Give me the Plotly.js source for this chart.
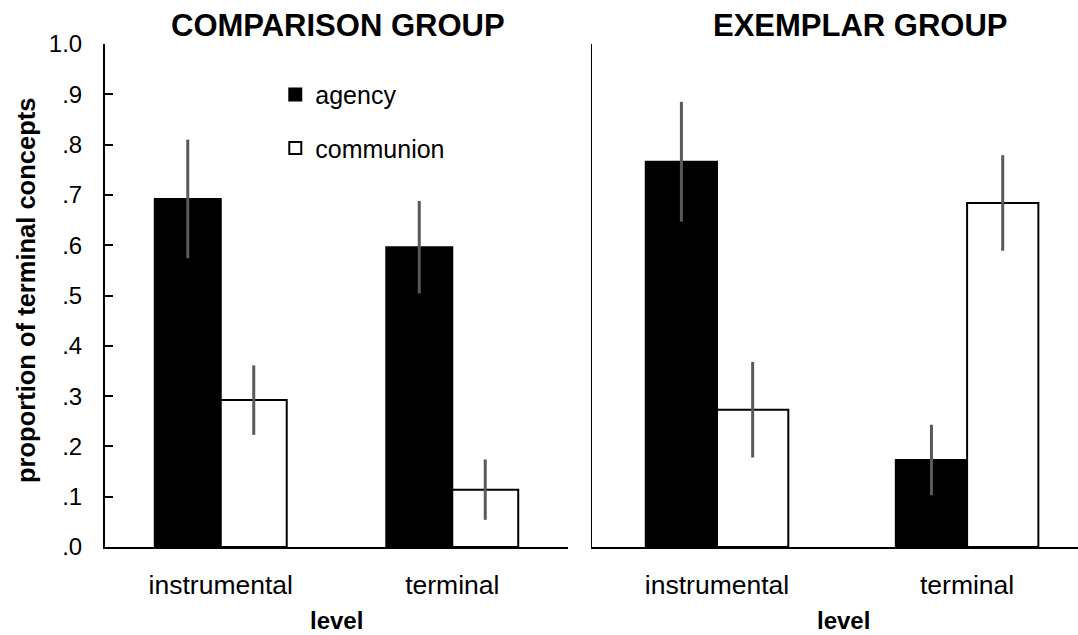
<!DOCTYPE html>
<html>
<head>
<meta charset="utf-8">
<script src="https://cdn.plot.ly/plotly-3.0.1.min.js"></script>
<style>html,body{margin:0;padding:0;background:#fff;}#chart{width:1078px;height:635px;}</style>
</head>
<body>
<div id="chart"></div>
<script>
// ---- data ----
const categories = ['instrumental', 'terminal'];
const seriesNames = ['agency', 'communion'];
const panelTitles = ['COMPARISON GROUP', 'EXEMPLAR GROUP'];

const comparisonAgency = [0.692, 0.596];
const comparisonAgencyErr = [0.118, 0.092];
const comparisonCommunion = [0.292, 0.114];
const comparisonCommunionErr = [0.069, 0.060];

const exemplarAgency = [0.766, 0.173];
const exemplarAgencyErr = [0.119, 0.070];
const exemplarCommunion = [0.273, 0.684];
const exemplarCommunionErr = [0.095, 0.095];

const yTickVals = [0, 0.1, 0.2, 0.3, 0.4, 0.5, 0.6, 0.7, 0.8, 0.9, 1.0];
const yTickText = ['.0', '.1', '.2', '.3', '.4', '.5', '.6', '.7', '.8', '.9', '1.0'];

const yTitle = 'proportion of terminal concepts';
const xTitle = 'level';

// ---- styling ----
const FONT = 'Liberation Sans, Arial, Helvetica, sans-serif';
const errStyle = (arr) => ({type: 'data', array: arr, visible: true, color: '#595959', thickness: 3, width: 0});

function barTrace(name, y, err, xa, ya, fill, showlegend) {
  return {
    type: 'bar', name: name, x: categories, y: y,
    xaxis: xa, yaxis: ya,
    marker: {color: fill, line: {color: '#000', width: 2}},
    error_y: errStyle(err),
    showlegend: showlegend, legendgroup: name,
    hoverinfo: 'none'
  };
}

const data = [
  barTrace(seriesNames[0], comparisonAgency, comparisonAgencyErr, 'x', 'y', '#000', true),
  barTrace(seriesNames[1], comparisonCommunion, comparisonCommunionErr, 'x', 'y', '#fff', true),
  barTrace(seriesNames[0], exemplarAgency, exemplarAgencyErr, 'x2', 'y2', '#000', false),
  barTrace(seriesNames[1], exemplarCommunion, exemplarCommunionErr, 'x2', 'y2', '#fff', false)
];

const plotW = 1078 - 105;
const layout = {
  width: 1078, height: 635,
  margin: {l: 105, r: 0, t: 44, b: 88, pad: 0},
  paper_bgcolor: '#fff', plot_bgcolor: 'rgba(0,0,0,0)',
  font: {family: FONT, color: '#000', size: 25},
  barmode: 'group', bargap: 0.43, bargroupgap: 0,
  showlegend: true,
  legend: {
    x: 0.175, y: 0.945, xanchor: 'left', yanchor: 'top',
    font: {family: FONT, size: 25, color: '#000'},
    bgcolor: 'rgba(0,0,0,0)', borderwidth: 0,
    tracegroupgap: 18, traceorder: 'grouped'
  },
  xaxis: {
    domain: [0, 463 / plotW], anchor: 'y', type: 'category',
    range: [-0.5, 1.5],
    showline: true, linecolor: '#000', linewidth: 2,
    ticks: '', showgrid: false, zeroline: false,
    tickfont: {family: FONT, size: 26.5, color: '#000'},
    ticklabelstandoff: 13
  },
  yaxis: {
    domain: [0, 1], anchor: 'x', range: [0, 1],
    tickvals: yTickVals, ticktext: yTickText,
    showline: true, linecolor: '#000', linewidth: 2,
    ticks: 'inside', ticklen: 8, tickwidth: 2, tickcolor: '#000',
    showgrid: false, zeroline: false,
    tickfont: {family: FONT, size: 24, color: '#000'},
    ticklabelstandoff: 16
  },
  xaxis2: {
    domain: [487 / plotW, 1], anchor: 'y2', type: 'category',
    range: [-0.5, 1.4435],
    showline: true, linecolor: '#000', linewidth: 2,
    ticks: '', showgrid: false, zeroline: false,
    tickfont: {family: FONT, size: 26.5, color: '#000'},
    ticklabelstandoff: 13
  },
  yaxis2: {
    domain: [0, 1], anchor: 'x2', range: [0, 1],
    showline: true, linecolor: '#000', linewidth: 1.5,
    ticks: '', showticklabels: false,
    showgrid: false, zeroline: false
  },
  annotations: [
    {text: '<b>' + panelTitles[0] + '</b>', xref: 'paper', yref: 'paper',
     x: (338 - 105) / plotW, y: 1.036, xanchor: 'center', yanchor: 'middle',
     showarrow: false, font: {family: FONT, size: 31, color: '#000'}},
    {text: '<b>' + panelTitles[1] + '</b>', xref: 'paper', yref: 'paper',
     x: (860 - 105) / plotW, y: 1.036, xanchor: 'center', yanchor: 'middle',
     showarrow: false, font: {family: FONT, size: 31, color: '#000'}},
    {text: '<b>' + yTitle + '</b>', xref: 'paper', yref: 'paper',
     x: (26 - 105) / plotW, y: 0.509, xanchor: 'center', yanchor: 'middle', textangle: -90,
     showarrow: false, font: {family: FONT, size: 25.5, color: '#000'}},
    {text: '<b>' + xTitle + '</b>', xref: 'paper', yref: 'paper',
     x: (336 - 105) / plotW, y: -0.147, xanchor: 'center', yanchor: 'middle',
     showarrow: false, font: {family: FONT, size: 24, color: '#000'}},
    {text: '<b>' + xTitle + '</b>', xref: 'paper', yref: 'paper',
     x: (843 - 105) / plotW, y: -0.147, xanchor: 'center', yanchor: 'middle',
     showarrow: false, font: {family: FONT, size: 24, color: '#000'}}
  ]
};

Plotly.newPlot('chart', data, layout, {displayModeBar: false, staticPlot: true});
</script>
</body>
</html>
